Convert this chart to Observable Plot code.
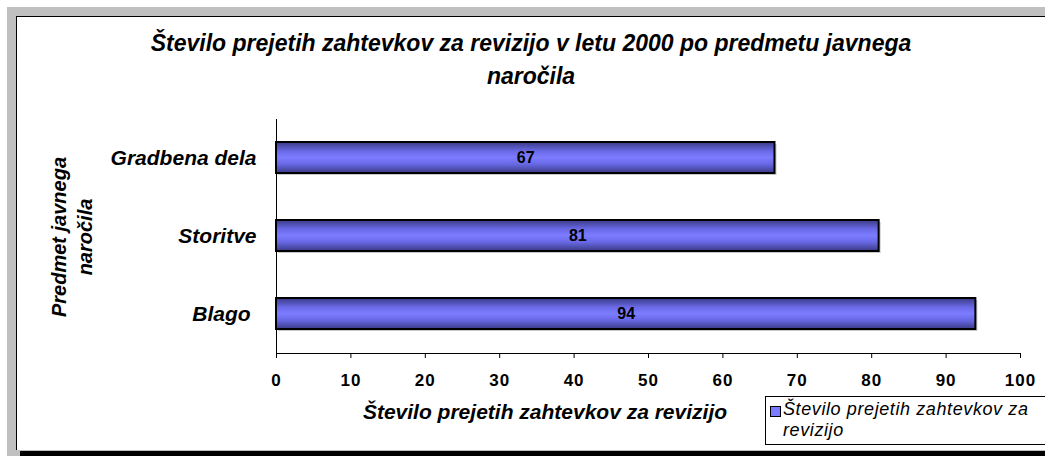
<!DOCTYPE html>
<html>
<head>
<meta charset="utf-8">
<script src="https://cdn.jsdelivr.net/npm/d3@7"></script>
<script src="https://cdn.jsdelivr.net/npm/@observablehq/plot@0.6"></script>
<style>
  html, body { margin: 0; padding: 0; background: #fff; }
  #wrap { position: relative; width: 1045px; height: 456px; overflow: hidden; font-family: "Liberation Sans", Arial, sans-serif; }
  #gray { position: absolute; left: 7px; top: 7px; right: -20px; bottom: 0; background: #c0c0c0; }
  #area { position: absolute; left: 16px; top: 16px; width: 1100px; height: 434px; background: #fff; border-left: 1px solid #000; border-top: 1px solid #000; box-sizing: border-box; }
  #shadow { position: absolute; left: 20px; top: 451px; width: 1100px; height: 5px; background: #000; }
  #chart { position: absolute; left: 0; top: 0; }
  .title { position: absolute; left: 81px; width: 900px; text-align: center; font-weight: bold; font-style: italic; font-size: 23px; line-height: 33px; top: 27px; }
  .xlabel { position: absolute; left: 295px; width: 500px; text-align: center; font-weight: bold; font-style: italic; font-size: 21px; top: 400px; }
  .ylabel { position: absolute; left: 72px; top: 237px; width: 220px; text-align: center; font-weight: bold; font-style: italic; font-size: 20px; line-height: 26px; transform: translate(-50%, -50%) rotate(-90deg); }
  .legend { position: absolute; left: 765px; top: 396px; width: 300px; height: 49px; border: 1px solid #000; box-sizing: border-box; background: #fff; font-style: italic; font-size: 18px; letter-spacing: 0.6px; line-height: 21px; padding: 2px 0 0 17px; }
  .legend .sw { position: absolute; left: 4px; top: 9px; width: 9px; height: 9px; border: 1px solid #000; background: #7b7bff; }
</style>
</head>
<body>
<div id="wrap">
  <div id="gray"></div>
  <div id="area"></div>
  <div id="shadow"></div>
  <div id="chart"></div>
  <div class="title">Število prejetih zahtevkov za revizijo v letu 2000 po predmetu javnega<br>naročila</div>
  <div class="xlabel">Število prejetih zahtevkov za revizijo</div>
  <div class="ylabel">Predmet javnega<br>naročila</div>
  <div class="legend"><span class="sw"></span>Število prejetih zahtevkov za<br>revizijo</div>
</div>
<script>
const categories = ["Gradbena dela", "Storitve", "Blago"];
const values = [67, 81, 94];
const xTicks = [0, 10, 20, 30, 40, 50, 60, 70, 80, 90, 100];
const seriesName = "Število prejetih zahtevkov za revizijo";

const data = categories.map((c, i) => ({category: c, value: values[i]}));

function gradientDefs() {
  const defs = d3.create("svg:defs");
  const g = defs.append("linearGradient").attr("id", "barGrad").attr("x1", 0).attr("y1", 0).attr("x2", 0).attr("y2", 1);
  g.append("stop").attr("offset", "0%").attr("stop-color", "#3a3a86");
  g.append("stop").attr("offset", "30%").attr("stop-color", "#6a6ae8");
  g.append("stop").attr("offset", "50%").attr("stop-color", "#7c7cff");
  g.append("stop").attr("offset", "70%").attr("stop-color", "#6a6ae8");
  g.append("stop").attr("offset", "100%").attr("stop-color", "#3a3a86");
  return defs.node();
}

const FONT = "Liberation Sans, Arial, sans-serif";
const chart = Plot.plot({
  width: 1045,
  height: 456,
  marginLeft: 276,
  marginRight: 25,
  marginTop: 119,
  marginBottom: 103,
  style: {background: "transparent", overflow: "visible"},
  x: {domain: [0, 100], ticks: xTicks, label: null},
  y: {domain: categories, paddingInner: 0.6, paddingOuter: 0.3, label: null},
  marks: [
    gradientDefs,
    Plot.barX(data, {x: "value", y: "category", fill: "#c8c8c8", dx: 2, dy: 2}),
    Plot.barX(data, {x: "value", y: "category", fill: "url(#barGrad)", stroke: "#000", strokeWidth: 2}),
    Plot.text(data, {x: d => d.value / 2, y: "category", text: d => String(d.value), fontWeight: "bold", fontSize: 16, fill: "#000", fontFamily: FONT}),
    Plot.frame({anchor: "left", stroke: "#000"}),
    Plot.frame({anchor: "bottom", stroke: "#000"}),
    Plot.axisX({ticks: xTicks, tickSize: 5, tickPadding: 15, label: null, fontWeight: "bold", fontSize: 17, fontFamily: FONT, stroke: "#000", color: "#000", className: "xax"}),
    Plot.axisY({tickSize: 0, tickPadding: 20, label: null, fontWeight: "bold", fontStyle: "italic", fontSize: 21, fontFamily: FONT, tickFormat: d => d === "Blago" ? "Blago\u00a0" : d, color: "#000"})
  ]
});
d3.select(chart).selectAll(".xax text").style("letter-spacing", "1px");
document.getElementById("chart").appendChild(chart);
</script>
</body>
</html>
